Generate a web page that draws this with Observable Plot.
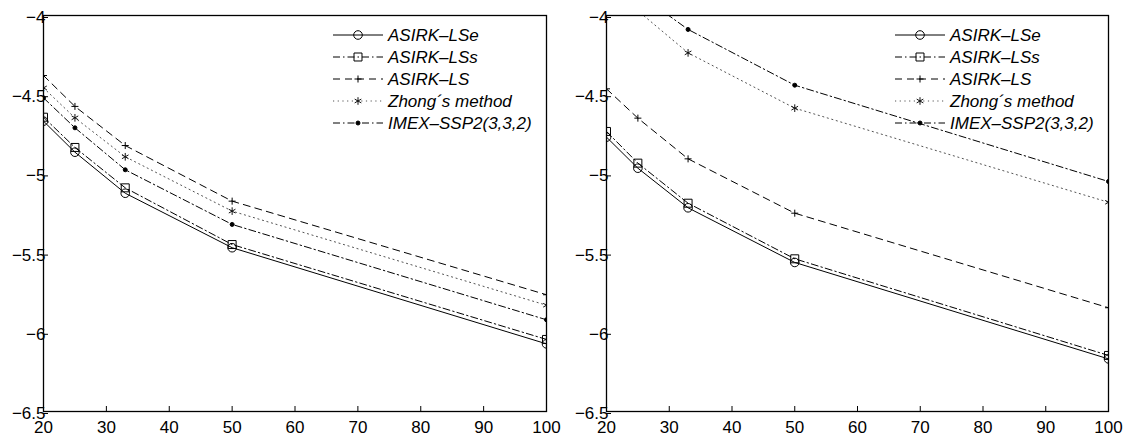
<!DOCTYPE html>
<html><head><meta charset="utf-8">
<script src="https://cdn.jsdelivr.net/npm/d3@7"></script>
<script src="https://cdn.jsdelivr.net/npm/@observablehq/plot@0.6"></script>
<style>
body{margin:0;background:#fff;}
#wrap{position:relative;width:1127px;height:437px;display:flex;}
.panel{position:relative;}
.legend{position:absolute;left:0;top:0;pointer-events:none;overflow:visible;}
</style></head><body><div id="wrap"></div>
<script>
// ---- data ----
const xValues = [20, 25, 33, 50, 100];
const seriesNames = ["ASIRK–LSe", "ASIRK–LSs", "ASIRK–LS", "Zhong´s method", "IMEX–SSP2(3,3,2)"];
const xTicks = [20, 30, 40, 50, 60, 70, 80, 90, 100];
const yTicks = [-6.5, -6, -5.5, -5, -4.5, -4];
const yTickLabels = ["−6.5", "−6", "−5.5", "−5", "−4.5", "−4"];

// left panel
const leftLSe  = [-4.667, -4.863, -5.122, -5.466, -6.073];
const leftLSs  = [-4.642, -4.833, -5.088, -5.446, -6.045];
const leftLS   = [-4.379, -4.574, -4.821, -5.172, -5.763];
const leftZhong= [-4.457, -4.646, -4.892, -5.235, -5.829];
const leftIMEX = [-4.520, -4.709, -4.974, -5.319, -5.921];
// right panel
const rightLSe  = [-4.768, -4.964, -5.214, -5.559, -6.168];
const rightLSs  = [-4.732, -4.932, -5.185, -5.536, -6.146];
const rightLS   = [-4.463, -4.648, -4.905, -5.248, -5.845];
const rightZhong= [-3.70, -3.97, -4.236, -4.585, -5.179];
const rightIMEX = [-3.60, -3.86, -4.088, -4.440, -5.048];

// ---- styles ----
const styles = [
  {dash: null,        symbol: "circle",   r: 4.3, fill: "none",  stroke: "#000", lineStroke: "#000", dsym: d3.symbolCircle},
  {dash: "7,3,1.5,3", symbol: "square",   r: 4.5, fill: "none",  stroke: "#000", lineStroke: "#000", dsym: d3.symbolSquare},
  {dash: "7,5",       symbol: "plus",     r: 2.4, fill: "none",  stroke: "#000", lineStroke: "#000", dsym: d3.symbolPlus},
  {dash: "1.2,3.5",   symbol: "asterisk", r: 3.6, fill: "none",  stroke: "#111", lineStroke: "#555", dsym: d3.symbolAsterisk},
  {dash: "7,3,1.5,3", symbol: "circle",   r: 2,   fill: "#000",  stroke: "#000", lineStroke: "#000", dsym: d3.symbolCircle}
];

const FONT = "'Liberation Sans', Arial, Helvetica, sans-serif";
const H = 437, MT = 15, MB = 26;

function makePanel(values, width, marginLeft, marginRight) {
  const marks = [];
  values.forEach((vals, i) => {
    const st = styles[i];
    const d = xValues.map((x, j) => ({x, y: vals[j], series: seriesNames[i]}));
    marks.push(Plot.line(d, {x: "x", y: "y", stroke: st.lineStroke, strokeWidth: 1, strokeDasharray: st.dash, clip: true}));
    marks.push(Plot.dot(d, {x: "x", y: "y", symbol: st.symbol, r: st.r, fill: st.fill, stroke: st.stroke, strokeWidth: 1, clip: true}));
  });
  marks.push(Plot.axisX({ticks: xTicks, tickSize: -5, tickPadding: 14, tickFormat: d => String(d), fontSize: 17, stroke: "#000", strokeWidth: 1}));
  marks.push(Plot.axisY({ticks: yTicks, tickSize: -5, tickPadding: 3, dy: 2, tickFormat: d => yTickLabels[yTicks.indexOf(d)], fontSize: 17, stroke: "#000", strokeWidth: 1}));
  marks.push(Plot.frame({stroke: "#000", strokeWidth: 1.3}));
  const chart = Plot.plot({
    width, height: H,
    marginLeft, marginRight, marginTop: MT, marginBottom: MB,
    style: {fontFamily: FONT, fontSize: "17px", color: "#000", background: "#fff", overflow: "visible"},
    x: {domain: [20, 100], label: null},
    y: {domain: [-6.5, -4], label: null},
    marks
  });
  const div = document.createElement("div");
  div.className = "panel";
  div.style.width = width + "px";
  div.style.height = H + "px";
  div.appendChild(chart);
  // legend (top-right inside the plot area)
  const plotRight = width - marginRight;
  const textX = plotRight - 158;
  const svg = d3.create("svg").attr("class", "legend").attr("width", width).attr("height", H);
  seriesNames.forEach((name, i) => {
    const st = styles[i];
    const cy = 35 + i * 22;
    svg.append("line").attr("x1", textX - 55).attr("x2", textX - 5).attr("y1", cy).attr("y2", cy)
      .attr("stroke", st.lineStroke).attr("stroke-width", 1).attr("stroke-dasharray", st.dash);
    const sym = d3.symbol(st.dsym, st.r * st.r * Math.PI)();
    svg.append("path").attr("d", sym).attr("transform", `translate(${textX - 30},${cy})`)
      .attr("fill", st.fill).attr("stroke", st.stroke).attr("stroke-width", 1);
    svg.append("text").attr("x", textX).attr("y", cy).attr("dy", "0.36em")
      .attr("font-family", FONT).attr("font-size", 17).attr("font-style", "italic").text(name);
  });
  div.appendChild(svg.node());
  return div;
}

const wrap = document.getElementById("wrap");
wrap.appendChild(makePanel([leftLSe, leftLSs, leftLS, leftZhong, leftIMEX], 563, 43, 17));
wrap.appendChild(makePanel([rightLSe, rightLSs, rightLS, rightZhong, rightIMEX], 564, 43, 19));
</script></body></html>
